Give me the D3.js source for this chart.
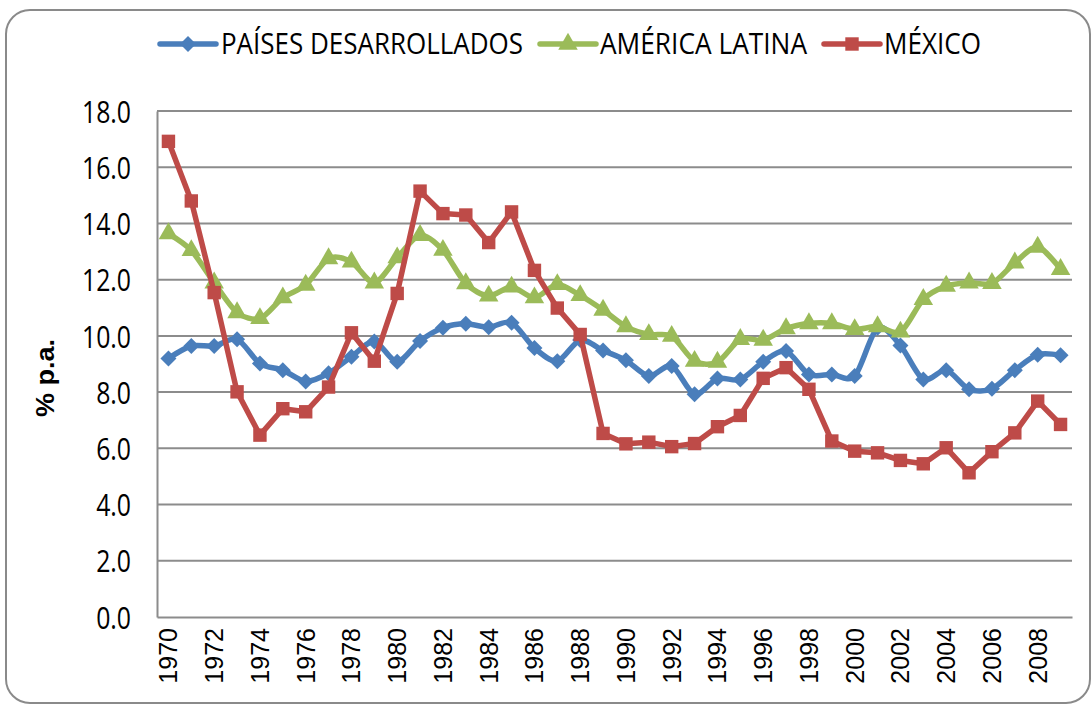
<!DOCTYPE html>
<html>
<head>
<meta charset="utf-8">
<script src="https://cdn.jsdelivr.net/npm/d3@7"></script>
<style>
  body { margin: 0; background: #fff; }
  svg { display: block; }
</style>
</head>
<body>
<svg width="1092" height="704"></svg>
<script>
// years on the category axis
const years = d3.range(1970, 2010);

const desarrollados = [9.20, 9.64, 9.64, 9.88, 9.02, 8.78, 8.38, 8.67, 9.26, 9.80,
  9.08, 9.82, 10.29, 10.43, 10.31, 10.47, 9.57, 9.10, 9.85, 9.48,
  9.13, 8.57, 8.93, 7.92, 8.48, 8.45, 9.08, 9.46, 8.63, 8.63,
  8.57, 10.29, 9.66, 8.45, 8.78, 8.10, 8.12, 8.78, 9.33, 9.31];

const americaLatina = [13.64, 13.04, 11.89, 10.83, 10.62, 11.36, 11.81, 12.75, 12.63, 11.89,
  12.78, 13.58, 13.05, 11.86, 11.42, 11.74, 11.36, 11.83, 11.44, 10.92,
  10.33, 10.05, 9.99, 9.10, 9.07, 9.88, 9.85, 10.26, 10.44, 10.44,
  10.23, 10.33, 10.14, 11.30, 11.77, 11.89, 11.87, 12.60, 13.16, 12.37];

const mexico = [16.92, 14.80, 11.54, 8.01, 6.47, 7.41, 7.30, 8.18, 10.11, 9.10,
  11.51, 15.15, 14.35, 14.30, 13.32, 14.41, 12.33, 10.99, 10.05, 6.53,
  6.16, 6.22, 6.06, 6.17, 6.77, 7.17, 8.49, 8.87, 8.10, 6.26,
  5.90, 5.84, 5.57, 5.45, 6.02, 5.13, 5.88, 6.55, 7.68, 6.85];

const seriesNames = ["PAÍSES DESARROLLADOS", "AMÉRICA LATINA", "MÉXICO"];
const yTicks = [0, 2, 4, 6, 8, 10, 12, 14, 16, 18];
const xLabels = years.filter(y => y % 2 === 0);

const series = [
  {name: seriesNames[0], values: desarrollados, color: "#4A7EBB", marker: "diamond", smooth: true},
  {name: seriesNames[1], values: americaLatina, color: "#9BBB59", marker: "triangle", smooth: true},
  {name: seriesNames[2], values: mexico, color: "#BE4B48", marker: "square", smooth: false}
];

const svg = d3.select("svg");

// outer chart frame
svg.append("rect")
  .attr("x", 6).attr("y", 10)
  .attr("width", 1084).attr("height", 693)
  .attr("rx", 24)
  .attr("fill", "#fff")
  .attr("stroke", "#8a8a8a")
  .attr("stroke-width", 2);

const x = d3.scaleBand()
  .domain(years)
  .range([157, 1072]);
const cx = d => x(d) + x.bandwidth() / 2;

const y = d3.scaleLinear()
  .domain([0, 18])
  .range([617, 111]);

// gridlines
svg.append("g")
  .selectAll("line")
  .data(yTicks.filter(t => t > 0))
  .enter()
  .append("line")
  .attr("x1", 157).attr("x2", 1072)
  .attr("y1", d => y(d)).attr("y2", d => y(d))
  .attr("stroke", "#8c8c8c")
  .attr("stroke-width", 2);

// y axis
const yAxis = svg.append("g")
  .attr("transform", "translate(157,0)")
  .call(d3.axisLeft(y).tickValues(yTicks).tickSize(0).tickPadding(0).tickFormat(d3.format(".1f")));
yAxis.select(".domain").attr("stroke", "#8c8c8c").attr("stroke-width", 2);
yAxis.selectAll("text")
  .attr("font-family", "Open Sans")
  .attr("font-size", 31)
  .attr("fill", "#000")
  .attr("x", -26 / 0.8)
  .attr("dy", "0.36em")
  .attr("transform", "scale(0.8,1)");

// x axis
const xAxis = svg.append("g")
  .attr("transform", "translate(0,617)")
  .call(d3.axisBottom(x).tickValues(xLabels).tickSize(0).tickPadding(0));
xAxis.select(".domain").attr("stroke", "#8c8c8c").attr("stroke-width", 2);
xAxis.selectAll("text")
  .attr("font-family", "Liberation Sans")
  .attr("font-size", 25)
  .attr("fill", "#000")
  .attr("text-anchor", "end")
  .attr("transform", "rotate(-90)")
  .attr("x", -11)
  .attr("y", 0)
  .attr("dy", "0.36em");

// axis title
svg.append("text")
  .attr("transform", "translate(54,378) rotate(-90)")
  .attr("text-anchor", "middle")
  .attr("font-family", "Liberation Sans")
  .attr("font-weight", "bold")
  .attr("font-size", 25)
  .attr("textLength", 78)
  .attr("lengthAdjust", "spacingAndGlyphs")
  .text("% p.a.");

const markerPath = {
  diamond: d3.symbol().type(d3.symbolSquare).size(128)(),
  triangle: d3.symbol().type(d3.symbolTriangle).size(165)(),
  square: d3.symbol().type(d3.symbolSquare).size(180)()
};
const markerRot = {diamond: 45, triangle: 0, square: 0};

series.forEach(s => {
  const line = d3.line()
    .x((d, i) => cx(years[i]))
    .y(d => y(d))
    .curve(s.smooth ? d3.curveCardinal.tension(0.15) : d3.curveLinear);

  const g = svg.append("g");
  g.append("path")
    .attr("d", line(s.values))
    .attr("fill", "none")
    .attr("stroke", s.color)
    .attr("stroke-width", 5.5)
    .attr("stroke-linejoin", "round");

  g.selectAll("path.mark")
    .data(s.values)
    .enter()
    .append("path")
    .attr("class", "mark")
    .attr("d", markerPath[s.marker])
    .attr("transform", (d, i) => `translate(${cx(years[i])},${y(d)}) rotate(${markerRot[s.marker]})`)
    .attr("fill", s.color);
});

// legend
const legendItems = [
  {lx: 160, tx: 221, tw: 302},
  {lx: 540, tx: 600, tw: 207},
  {lx: 824, tx: 884, tw: 97}
];
series.forEach((s, i) => {
  const it = legendItems[i];
  const g = svg.append("g");
  g.append("line")
    .attr("x1", it.lx).attr("x2", it.lx + 56)
    .attr("y1", 44).attr("y2", 44)
    .attr("stroke", s.color)
    .attr("stroke-width", 5.5)
    .attr("stroke-linecap", "round");
  g.append("path")
    .attr("d", markerPath[s.marker])
    .attr("transform", `translate(${it.lx + 28},44) rotate(${markerRot[s.marker]})`)
    .attr("fill", s.color);
  g.append("text")
    .attr("x", it.tx).attr("y", 54)
    .attr("font-family", "Open Sans")
    .attr("font-size", 30)
    .attr("textLength", it.tw)
    .attr("lengthAdjust", "spacingAndGlyphs")
    .text(s.name);
});
</script>
</body>
</html>
